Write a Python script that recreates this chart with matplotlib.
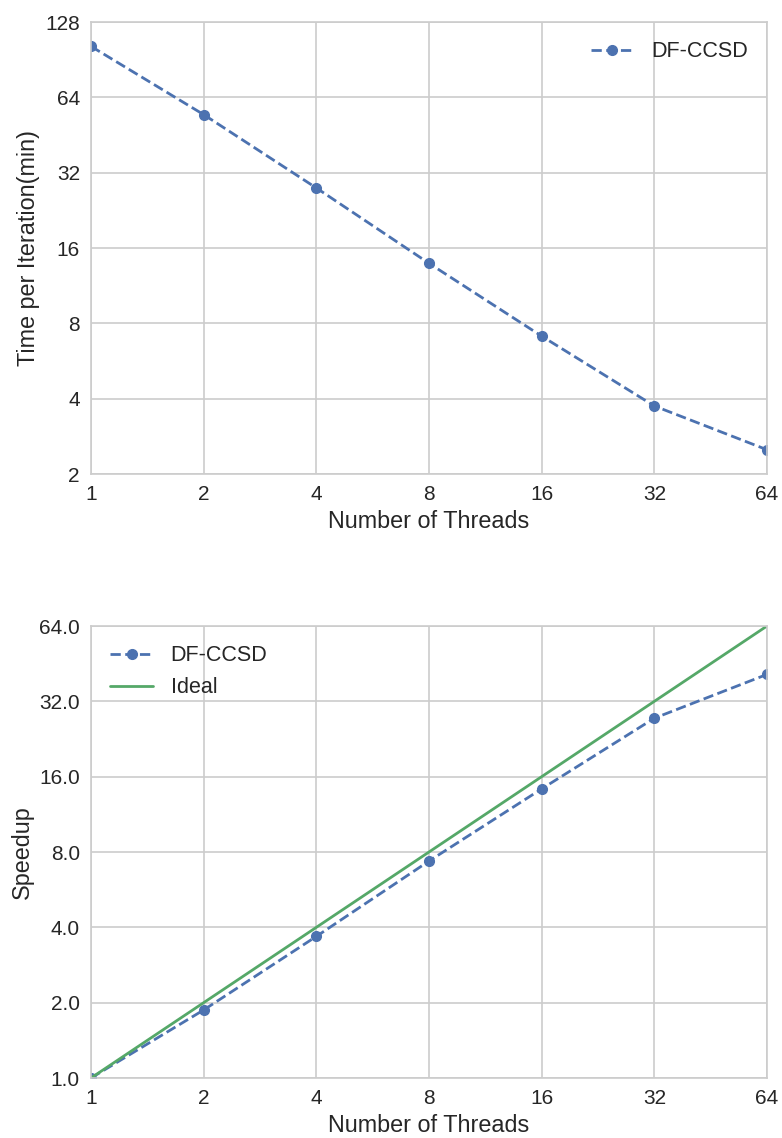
import matplotlib
matplotlib.use("Agg")
import matplotlib.pyplot as plt
import seaborn as sns
from matplotlib.ticker import FixedLocator, FixedFormatter, NullLocator

sns.set_style("whitegrid")
plt.rcParams['font.family'] = ['Liberation Sans', 'DejaVu Sans']

threads = [1, 2, 4, 8, 16, 32, 64]
time_per_iter = [102.3, 54.6, 27.8, 13.9, 7.11, 3.74, 2.50]
speedup = [1.0, 1.87, 3.68, 7.36, 14.3, 27.4, 41.0]
ideal = [1, 2, 4, 8, 16, 32, 64]

top_yticks = [2, 4, 8, 16, 32, 64, 128]
top_ylabels = ["2", "4", "8", "16", "32", "64", "128"]
bot_yticks = [1, 2, 4, 8, 16, 32, 64]
bot_ylabels = ["1.0", "2.0", "4.0", "8.0", "16.0", "32.0", "64.0"]
xlabels = ["1", "2", "4", "8", "16", "32", "64"]

blue = "#4C72B0"
green = "#55A868"
fs = 15
lfs = 16.8

fig = plt.figure(figsize=(7.82, 11.38), dpi=100)
W, H = 782, 1138
ax1 = fig.add_axes([91 / W, 1 - 474 / H, (767 - 91) / W, (474 - 22) / H])
ax2 = fig.add_axes([91 / W, 1 - 1078 / H, (767 - 91) / W, (1078 - 626) / H])

for ax in (ax1, ax2):
    ax.set_xscale('log', base=2)
    ax.set_yscale('log', base=2)
    ax.set_xlim(1, 64)
    ax.xaxis.set_major_locator(FixedLocator(threads))
    ax.xaxis.set_major_formatter(FixedFormatter(xlabels))
    ax.xaxis.set_minor_locator(NullLocator())
    ax.yaxis.set_minor_locator(NullLocator())
    ax.tick_params(labelsize=fs, colors="#262626", length=0, pad=8)
    for s in ax.spines.values():
        s.set_color("#cccccc")
        s.set_linewidth(1.2)
    ax.grid(True, color="#cccccc", linewidth=1.2)
    ax.set_xlabel("Number of Threads", fontsize=lfs, color="#262626", labelpad=4)

ax1.plot(threads, time_per_iter, linestyle='--', marker='o', color=blue,
         linewidth=2, markersize=7, label="DF-CCSD")
ax1.set_ylim(2, 128)
ax1.yaxis.set_major_locator(FixedLocator(top_yticks))
ax1.yaxis.set_major_formatter(FixedFormatter(top_ylabels))
ax1.set_ylabel("Time per Iteration(min)", fontsize=lfs, color="#262626", labelpad=4)
ax1.legend(loc="upper right", frameon=False, fontsize=15.5)

ax2.plot(threads, speedup, linestyle='--', marker='o', color=blue,
         linewidth=2, markersize=7, label="DF-CCSD")
ax2.plot(threads, ideal, linestyle='-', color=green, linewidth=2, label="Ideal")
ax2.set_ylim(1, 64)
ax2.yaxis.set_major_locator(FixedLocator(bot_yticks))
ax2.yaxis.set_major_formatter(FixedFormatter(bot_ylabels))
ax2.set_ylabel("Speedup", fontsize=lfs, color="#262626", labelpad=4)
ax2.legend(loc="upper left", frameon=False, fontsize=15.5)

fig.savefig("out.png", dpi=100)
